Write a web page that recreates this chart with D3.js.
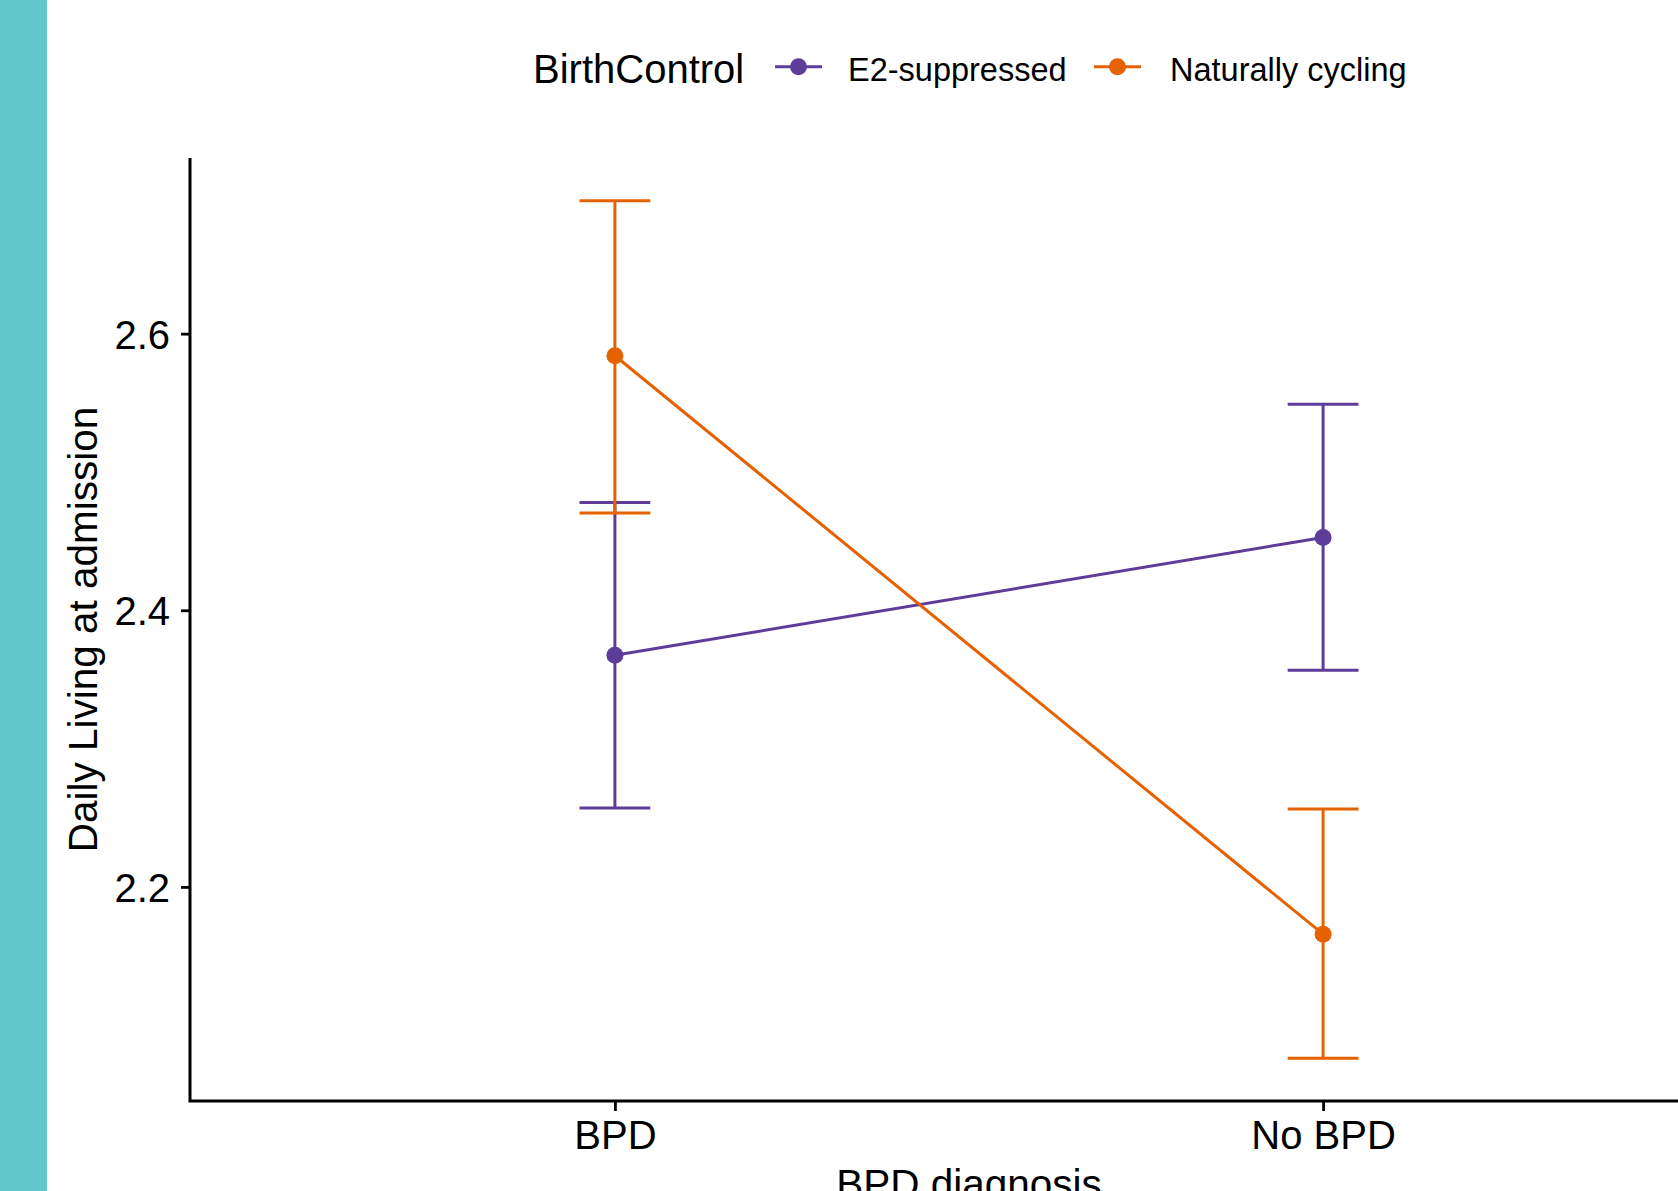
<!DOCTYPE html>
<html>
<head>
<meta charset="utf-8">
<script src="https://cdn.jsdelivr.net/npm/d3@7"></script>
<style>
  html, body { margin: 0; padding: 0; background: #ffffff; overflow: hidden; }
  svg { display: block; font-family: "Liberation Sans", Arial, Helvetica, sans-serif; }
</style>
</head>
<body>
<svg id="chart" width="1678" height="1191"></svg>
<script>
// ---- data ----
const categories = ["BPD", "No BPD"];
const groups = ["E2-suppressed", "Naturally cycling"];
const e2Mean  = [2.3675, 2.4526];
const e2Lower = [2.2570, 2.3567];
const e2Upper = [2.4780, 2.5490];
const ncMean  = [2.5840, 2.1658];
const ncLower = [2.4703, 2.0762];
const ncUpper = [2.6960, 2.2563];
const yTicks = [2.2, 2.4, 2.6];
const legendTitle = "BirthControl";
const xTitle = "BPD diagnosis";
const yTitle = "Daily Living at admission";

const colors = { "E2-suppressed": "#5E3C99", "Naturally cycling": "#E66101" };

const series = [
  { name: groups[0], mean: e2Mean, lower: e2Lower, upper: e2Upper },
  { name: groups[1], mean: ncMean, lower: ncLower, upper: ncUpper }
];

// ---- layout ----
const svg = d3.select("#chart");
const W = 1678, H = 1191;
const panel = { left: 190, right: 1748, top: 158, bottom: 1101 };

svg.append("rect").attr("x", 0).attr("y", 0).attr("width", W).attr("height", H).attr("fill", "#ffffff");
svg.append("rect").attr("x", 0).attr("y", 0).attr("width", 47).attr("height", H).attr("fill", "#62C7CA");

// ---- scales ----
const allVals = series.flatMap(s => s.lower.concat(s.upper));
const ext = d3.extent(allVals);
const pad = (ext[1] - ext[0]) * 0.05;
const y = d3.scaleLinear().domain([ext[0] - pad, ext[1] + pad]).range([panel.bottom, panel.top]);
const x = d3.scalePoint().domain(categories).range([panel.left, panel.right]).padding(0.6);
const capHalf = x.step() * 0.05;

const lw = 3;

// ---- marks ----
const g = svg.append("g");
series.forEach(s => {
  const c = colors[s.name];
  categories.forEach((cat, i) => {
    const cx = x(cat);
    g.append("line").attr("x1", cx).attr("x2", cx).attr("y1", y(s.lower[i])).attr("y2", y(s.upper[i]))
      .attr("stroke", c).attr("stroke-width", lw);
    g.append("line").attr("x1", cx - capHalf).attr("x2", cx + capHalf).attr("y1", y(s.upper[i])).attr("y2", y(s.upper[i]))
      .attr("stroke", c).attr("stroke-width", lw);
    g.append("line").attr("x1", cx - capHalf).attr("x2", cx + capHalf).attr("y1", y(s.lower[i])).attr("y2", y(s.lower[i]))
      .attr("stroke", c).attr("stroke-width", lw);
  });
});
series.forEach(s => {
  const c = colors[s.name];
  const line = d3.line().x((d, i) => x(categories[i])).y(d => y(d));
  g.append("path").attr("d", line(s.mean)).attr("fill", "none").attr("stroke", c).attr("stroke-width", lw);
  categories.forEach((cat, i) => {
    g.append("circle").attr("cx", x(cat)).attr("cy", y(s.mean[i])).attr("r", 8.5).attr("fill", c);
  });
});

// ---- axes ----
const yAxis = d3.axisLeft(y).tickValues(yTicks).tickFormat(d3.format(".1f")).tickSize(9).tickPadding(11).tickSizeOuter(0);
const yg = svg.append("g").attr("transform", `translate(${panel.left},0)`).call(yAxis);
yg.select(".domain").remove();
yg.selectAll(".tick line").attr("stroke", "#000").attr("stroke-width", 2.8);
yg.selectAll(".tick text").attr("font-size", 40).attr("fill", "#000").attr("dy", "0.36em")
  .attr("font-family", "'Liberation Sans', Arial, Helvetica, sans-serif");

const xAxis = d3.axisBottom(x).tickSize(10).tickPadding(10).tickSizeOuter(0);
const xg = svg.append("g").attr("transform", `translate(0,${panel.bottom})`).call(xAxis);
xg.select(".domain").remove();
xg.selectAll(".tick line").attr("stroke", "#000").attr("stroke-width", 2.8);
xg.selectAll(".tick text").attr("font-size", 40).attr("fill", "#000")
  .attr("font-family", "'Liberation Sans', Arial, Helvetica, sans-serif");

svg.append("path")
  .attr("d", `M${panel.left},${panel.top}V${panel.bottom}H${panel.right}`)
  .attr("fill", "none").attr("stroke", "#000").attr("stroke-width", 3);

// ---- axis titles ----
svg.append("text").attr("x", (panel.left + panel.right) / 2).attr("y", 1198)
  .attr("text-anchor", "middle").attr("font-size", 40.5).attr("fill", "#000").text(xTitle);
svg.append("text").attr("transform", `translate(97,${(panel.top + panel.bottom) / 2}) rotate(-90)`)
  .attr("text-anchor", "middle").attr("font-size", 40.5).attr("fill", "#000").text(yTitle);

// ---- legend ----
const lg = svg.append("g");
lg.append("text").attr("x", 533).attr("y", 82.5).attr("font-size", 40).attr("fill", "#000").text(legendTitle);
const keyX = [775, 1094];
const labX = [848, 1170];
groups.forEach((name, i) => {
  const c = colors[name];
  lg.append("line").attr("x1", keyX[i]).attr("x2", keyX[i] + 47).attr("y1", 66.7).attr("y2", 66.7)
    .attr("stroke", c).attr("stroke-width", lw);
  lg.append("circle").attr("cx", keyX[i] + 23.5).attr("cy", 66.7).attr("r", 8.5).attr("fill", c);
  lg.append("text").attr("x", labX[i]).attr("y", 80.7).attr("font-size", 32.5).attr("fill", "#000").text(name);
});
</script>
</body>
</html>
